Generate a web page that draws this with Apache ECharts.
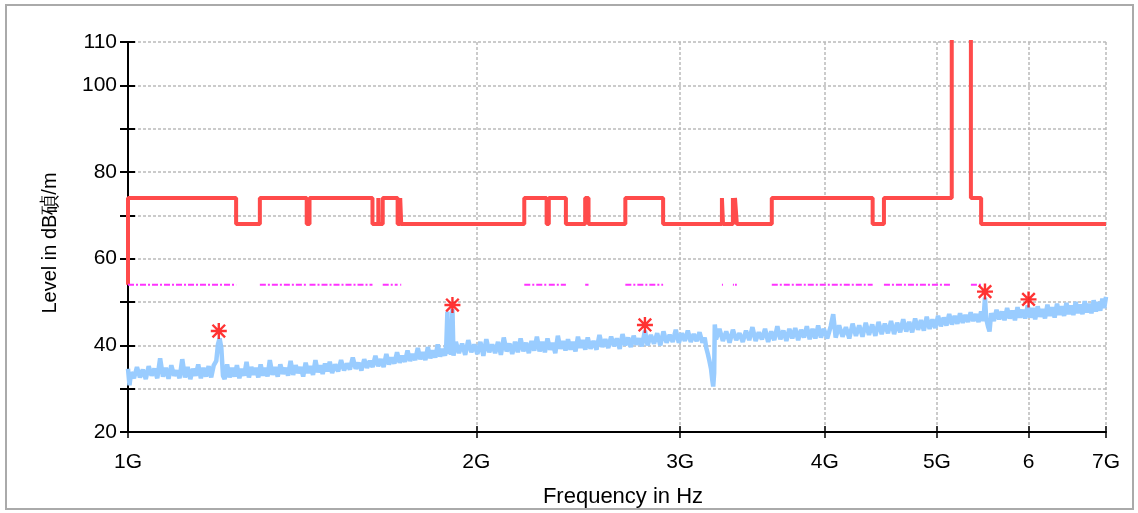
<!DOCTYPE html>
<html>
<head>
<meta charset="utf-8">
<script src="https://cdn.jsdelivr.net/npm/echarts@6/dist/echarts.min.js"></script>
<style>
html, body { margin: 0; padding: 0; background: #fff; }
#chart { width: 1138px; height: 513px; }
</style>
</head>
<body>
<div id="chart"></div>
<script>
// frequencies in GHz, levels in dB
var xTicks = [1, 2, 3, 4, 5, 6, 7];
var xTickLabels = ['1G', '2G', '3G', '4G', '5G', '6', '7G'];
var yLabels = [20, 40, 60, 80, 100, 110];

// limit line: band edges and the level inside each band (the 5.15-5.35 band runs off the top)
var limitEdges = [1.0, 1.24, 1.3, 1.427, 1.435, 1.6265, 1.6455, 1.6465, 1.66, 1.71, 1.7188, 1.7222,
    2.2, 2.3, 2.31, 2.39, 2.4835, 2.5, 2.69, 2.9, 3.26, 3.267, 3.332, 3.339, 3.3458, 3.358,
    3.6, 4.4, 4.5, 5.15, 5.35, 5.46, 7.0];
var limitLevels = [74, 68, 74, 68, 74, 68, 74, 68, 74, 68, 74, 68,
    74, 68, 74, 68, 74, 68, 74, 68, 74, 68, 74, 68, 74, 68,
    74, 68, 74, 120, 74, 68];
var limitStart = 54;
var avgLevel = 54;

// measured trace [GHz, dB]
var trace = [
    [1.000, 34.6], [1.003, 30.8], [1.006, 33.8], [1.012, 32.4], [1.018, 35.0], [1.024, 32.6], [1.030, 34.4],
    [1.036, 32.2], [1.042, 35.2], [1.048, 33.0], [1.054, 34.6], [1.060, 32.4], [1.066, 37.0], [1.072, 32.8],
    [1.078, 34.8], [1.084, 32.3], [1.090, 35.4], [1.096, 33.0], [1.102, 34.2], [1.108, 32.4], [1.114, 36.8],
    [1.120, 32.6], [1.126, 35.0], [1.132, 32.2], [1.138, 34.6], [1.144, 33.0], [1.150, 35.6], [1.156, 32.4],
    [1.162, 34.8], [1.168, 32.8], [1.174, 35.2], [1.180, 32.6], [1.186, 35.4], [1.192, 36.4], [1.196, 40.2],
    [1.200, 41.6], [1.204, 39.4], [1.208, 33.0], [1.212, 32.2], [1.218, 35.6], [1.224, 32.6], [1.230, 34.8],
    [1.236, 32.8], [1.242, 35.4], [1.248, 32.4], [1.254, 34.6], [1.260, 33.0], [1.266, 36.2], [1.272, 32.6],
    [1.278, 35.0], [1.284, 33.2], [1.290, 34.8], [1.296, 32.6], [1.302, 35.6], [1.308, 33.0], [1.314, 34.8],
    [1.320, 32.8], [1.326, 36.6], [1.333, 33.2], [1.340, 35.0], [1.347, 32.8], [1.354, 35.6], [1.361, 33.4],
    [1.368, 34.8], [1.375, 33.0], [1.382, 36.4], [1.389, 33.2], [1.396, 35.4], [1.403, 33.6], [1.410, 35.0],
    [1.417, 32.8], [1.424, 36.0], [1.431, 33.6], [1.438, 35.2], [1.445, 33.2], [1.452, 36.6], [1.459, 33.8],
    [1.466, 35.4], [1.473, 33.4], [1.480, 35.8], [1.487, 34.0], [1.494, 36.2], [1.501, 33.6], [1.510, 35.6],
    [1.519, 34.0], [1.528, 36.6], [1.537, 34.2], [1.546, 35.8], [1.555, 34.4], [1.564, 37.2], [1.573, 34.6],
    [1.582, 36.0], [1.591, 34.2], [1.600, 36.8], [1.609, 34.8], [1.618, 36.4], [1.627, 35.0], [1.636, 37.6],
    [1.645, 35.2], [1.654, 36.8], [1.663, 35.0], [1.672, 38.0], [1.681, 35.6], [1.690, 37.2], [1.699, 35.8],
    [1.708, 38.4], [1.717, 36.0], [1.726, 37.6], [1.735, 36.2], [1.744, 38.8], [1.753, 36.4], [1.762, 38.0],
    [1.771, 36.6], [1.780, 39.4], [1.789, 36.8], [1.798, 38.4], [1.807, 36.6], [1.816, 39.6], [1.825, 37.0],
    [1.834, 38.8], [1.843, 37.2], [1.852, 40.2], [1.861, 37.4], [1.870, 39.2], [1.879, 37.6], [1.884, 40.4],
    [1.888, 47.8], [1.892, 38.0], [1.897, 40.6], [1.902, 37.8], [1.907, 48.4], [1.911, 37.6], [1.920, 40.8],
    [1.932, 38.2], [1.944, 40.4], [1.956, 37.8], [1.968, 41.2], [1.980, 38.4], [1.992, 40.2], [2.004, 38.0],
    [2.016, 40.8], [2.028, 37.6], [2.040, 41.4], [2.052, 38.4], [2.064, 40.2], [2.076, 38.2], [2.088, 40.8],
    [2.100, 37.8], [2.112, 41.8], [2.124, 38.6], [2.136, 40.4], [2.148, 38.0], [2.160, 40.8], [2.172, 38.4],
    [2.184, 41.6], [2.196, 38.6], [2.208, 40.6], [2.220, 38.2], [2.232, 41.0], [2.244, 38.8], [2.256, 42.0],
    [2.268, 38.6], [2.280, 40.8], [2.292, 38.4], [2.304, 41.6], [2.316, 39.0], [2.328, 40.6], [2.340, 38.2],
    [2.352, 42.2], [2.364, 39.2], [2.376, 41.0], [2.388, 38.8], [2.400, 41.4], [2.412, 39.0], [2.424, 40.8],
    [2.436, 38.6], [2.448, 42.0], [2.460, 39.4], [2.472, 41.2], [2.484, 39.0], [2.496, 41.8], [2.510, 39.2],
    [2.525, 41.0], [2.540, 39.0], [2.555, 42.4], [2.570, 39.6], [2.585, 41.4], [2.600, 39.4], [2.615, 42.0],
    [2.630, 39.8], [2.645, 41.6], [2.660, 39.2], [2.675, 42.6], [2.690, 40.0], [2.705, 41.8], [2.720, 39.6],
    [2.735, 42.2], [2.750, 40.2], [2.765, 41.6], [2.780, 39.8], [2.797, 43.4], [2.812, 40.0], [2.830, 42.4],
    [2.848, 40.4], [2.866, 42.8], [2.884, 40.0], [2.902, 43.2], [2.920, 40.6], [2.938, 42.4], [2.956, 40.8],
    [2.974, 43.6], [2.992, 40.6], [3.010, 42.8], [3.028, 41.0], [3.046, 43.4], [3.064, 40.8], [3.082, 42.6],
    [3.100, 41.0], [3.118, 43.0], [3.136, 40.6], [3.150, 41.8], [3.160, 39.4], [3.170, 38.0], [3.180, 36.4],
    [3.190, 34.6], [3.198, 32.0], [3.204, 30.5], [3.210, 33.6], [3.214, 44.8], [3.222, 41.4], [3.244, 43.8],
    [3.266, 41.0], [3.288, 43.2], [3.310, 40.6], [3.332, 43.6], [3.354, 41.2], [3.376, 42.8], [3.398, 40.8],
    [3.420, 43.4], [3.442, 41.2], [3.464, 44.2], [3.486, 41.0], [3.508, 43.0], [3.530, 41.4], [3.552, 43.8],
    [3.574, 40.8], [3.596, 43.2], [3.618, 41.2], [3.640, 44.4], [3.662, 41.4], [3.684, 43.4], [3.706, 41.0],
    [3.728, 43.8], [3.750, 41.6], [3.772, 44.0], [3.794, 41.2], [3.816, 43.6], [3.838, 41.8], [3.860, 44.4],
    [3.882, 41.4], [3.904, 43.8], [3.926, 41.6], [3.948, 44.6], [3.970, 41.8], [3.992, 43.8], [4.020, 41.6],
    [4.048, 44.4], [4.068, 47.2], [4.088, 41.8], [4.116, 44.6], [4.144, 42.0], [4.172, 44.2], [4.200, 41.6],
    [4.228, 45.0], [4.256, 42.2], [4.284, 44.6], [4.312, 42.0], [4.340, 45.2], [4.368, 42.4], [4.396, 44.8],
    [4.424, 42.2], [4.452, 45.4], [4.480, 42.6], [4.508, 45.0], [4.536, 42.8], [4.564, 45.6], [4.592, 42.6],
    [4.620, 45.2], [4.648, 43.0], [4.676, 46.0], [4.704, 43.2], [4.732, 45.4], [4.760, 43.0], [4.788, 46.2],
    [4.816, 43.6], [4.844, 45.8], [4.872, 43.4], [4.900, 46.6], [4.928, 43.8], [4.956, 46.0], [4.984, 44.0],
    [5.012, 46.8], [5.040, 44.4], [5.068, 46.4], [5.096, 44.6], [5.124, 47.2], [5.152, 44.8], [5.180, 46.8],
    [5.208, 45.0], [5.236, 47.4], [5.264, 45.2], [5.292, 47.0], [5.320, 45.4], [5.348, 47.6], [5.376, 45.6],
    [5.404, 47.2], [5.432, 45.4], [5.460, 47.8], [5.485, 45.6], [5.502, 51.0], [5.515, 46.2], [5.535, 44.4],
    [5.552, 43.2], [5.570, 47.4], [5.600, 45.6], [5.630, 48.2], [5.660, 46.0], [5.690, 47.8], [5.720, 45.8],
    [5.750, 48.6], [5.780, 46.2], [5.810, 48.0], [5.840, 45.8], [5.870, 48.8], [5.900, 46.4], [5.930, 48.2],
    [5.960, 46.2], [5.990, 49.2], [6.020, 46.4], [6.050, 48.6], [6.080, 46.0], [6.110, 49.0], [6.140, 46.6],
    [6.170, 48.4], [6.200, 46.2], [6.230, 49.4], [6.260, 46.8], [6.290, 48.8], [6.320, 46.4], [6.350, 49.6],
    [6.380, 47.0], [6.410, 49.0], [6.440, 46.8], [6.470, 49.8], [6.500, 47.2], [6.530, 49.2], [6.560, 47.0],
    [6.590, 50.0], [6.620, 47.4], [6.650, 49.4], [6.680, 47.2], [6.710, 50.2], [6.740, 47.6], [6.770, 49.6],
    [6.800, 47.4], [6.830, 50.4], [6.860, 47.8], [6.890, 50.0], [6.920, 48.0], [6.950, 50.8], [6.975, 48.6],
    [7.000, 51.2]
];

// peak markers [GHz, dB]
var peaks = [[1.198, 43.3], [1.907, 49.3], [2.797, 44.7], [5.502, 52.4], [6.00, 50.6]];

var asterisk = 'path://M8.5,0h3v20h-3z M0,8.5h20v3h-20z M1.1,3.2L3.2,1.1L18.9,16.8L16.8,18.9z M16.8,1.1L18.9,3.2L3.2,18.9L1.1,16.8z';

function buildLimit() {
    var pts = [[limitEdges[0], limitStart]];
    for (var i = 0; i < limitLevels.length; i++) {
        pts.push([limitEdges[i], limitLevels[i]]);
        pts.push([limitEdges[i + 1], limitLevels[i]]);
    }
    return pts;
}

function buildAvg() {
    var pts = [];
    for (var i = 0; i < limitLevels.length; i++) {
        if (limitLevels[i] === 74) {
            pts.push([limitEdges[i], avgLevel]);
            pts.push([limitEdges[i + 1], avgLevel]);
            pts.push([limitEdges[i + 1], null]);
        }
    }
    return pts;
}

var myChart = echarts.init(document.getElementById('chart'));
var font = 'Liberation Sans, Arial, sans-serif';
var option = {
    animation: false,
    backgroundColor: '#fff',
    textStyle: { fontFamily: font },
    graphic: [{
        type: 'rect',
        shape: { x: 6, y: 5, width: 1127, height: 504 },
        style: { fill: 'none', stroke: '#AAAAAA', lineWidth: 2 },
        z: -1
    }],
    grid: { left: 128, right: 32, top: 42, bottom: 81, outerBoundsMode: 'none', containLabel: false },
    xAxis: [{
        type: 'log',
        logBase: 10,
        min: 1,
        max: 7,
        name: 'Frequency in Hz',
        nameLocation: 'middle',
        nameGap: 54,
        nameTextStyle: { color: '#000', fontSize: 22, fontFamily: font, padding: [0, 0, 0, 12] },
        axisLine: { lineStyle: { color: '#000', width: 2 } },
        axisTick: { customValues: xTicks, length: 6, lineStyle: { color: '#000', width: 1.5 } },
        axisLabel: {
            customValues: xTicks,
            margin: 20,
            color: '#000',
            fontSize: 21,
            fontFamily: font,
            formatter: function(v) {
                return xTickLabels[xTicks.indexOf(Math.round(v))];
            }
        },
        splitLine: { show: true, lineStyle: { color: '#BBBBBB', type: [3, 2], width: 1.5 } },
        minorTick: { show: false },
        minorSplitLine: { show: false }
    }, {
        type: 'log',
        logBase: 10,
        min: 1,
        max: 7,
        position: 'bottom',
        axisLine: { show: false },
        axisTick: { customValues: xTicks, inside: true, length: 6, lineStyle: { color: '#000', width: 1.5 } },
        axisLabel: { show: false },
        splitLine: { show: false }
    }],
    yAxis: [{
        type: 'value',
        min: 20,
        max: 110,
        interval: 10,
        name: 'Level in dB碵/m',
        nameLocation: 'middle',
        nameGap: 68,
        nameTextStyle: { color: '#000', fontSize: 20, fontFamily: font, padding: [0, 12, 0, 0] },
        axisLine: { show: true, lineStyle: { color: '#000', width: 2 } },
        axisTick: { show: true, length: 8, lineStyle: { color: '#000', width: 2 } },
        axisLabel: {
            margin: 11,
            color: '#000',
            fontSize: 21,
            fontFamily: font,
            formatter: function(v) {
                return yLabels.indexOf(v) >= 0 ? String(v) : '';
            }
        },
        splitLine: { show: true, lineStyle: { color: '#BBBBBB', type: [3, 2], width: 1.5 } }
    }, {
        type: 'value',
        min: 20,
        max: 110,
        interval: 10,
        position: 'left',
        axisLine: { show: false },
        axisTick: { show: true, inside: true, length: 7, lineStyle: { color: '#000', width: 2 } },
        axisLabel: { show: false },
        splitLine: { show: false }
    }],
    series: [{
        name: 'trace',
        type: 'line',
        data: trace,
        symbol: 'none',
        lineStyle: { color: '#99CCFF', width: 4.5 },
        z: 2
    }, {
        name: 'limit',
        type: 'line',
        data: buildLimit(),
        symbol: 'none',
        clip: true,
        lineStyle: { color: '#FF4B4B', width: 4 },
        z: 3
    }, {
        name: 'avg',
        type: 'line',
        data: buildAvg(),
        symbol: 'none',
        connectNulls: false,
        lineStyle: { color: '#FF33FF', width: 2, type: [6, 2, 2, 2] },
        z: 3
    }, {
        name: 'peaks',
        type: 'scatter',
        data: peaks,
        symbol: asterisk,
        symbolSize: 16,
        itemStyle: { color: '#FF0000' },
        z: 4
    }]
};
myChart.setOption(option);
</script>
</body>
</html>
